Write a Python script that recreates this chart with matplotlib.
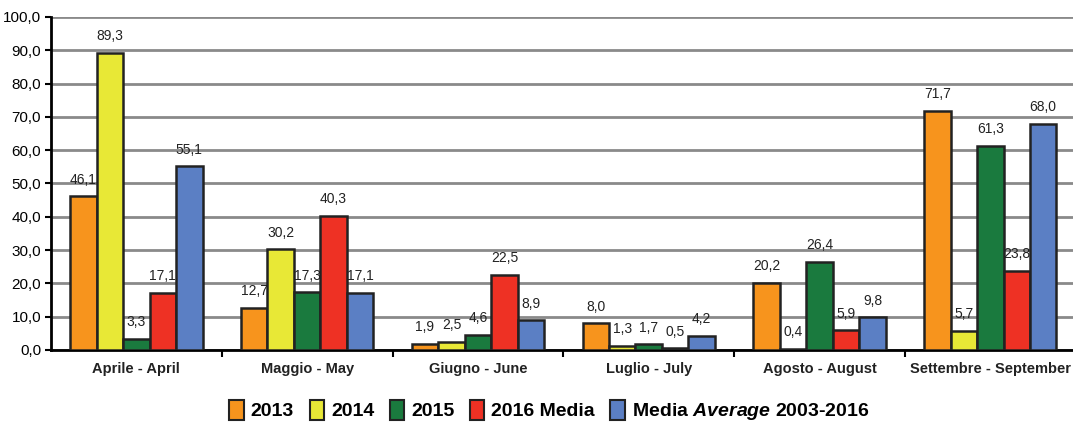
import numpy as np
from matplotlib import pyplot as plt

months = ["Aprile - April", "Maggio - May", "Giugno - June",
          "Luglio - July", "Agosto - August", "Settembre - September"]
v2013 = [46.1, 12.7, 1.9, 8.0, 20.2, 71.7]
v2014 = [89.3, 30.2, 2.5, 1.3, 0.4, 5.7]
v2015 = [3.3, 17.3, 4.6, 1.7, 26.4, 61.3]
v2016 = [17.1, 40.3, 22.5, 0.5, 5.9, 23.8]
media = [55.1, 17.1, 8.9, 4.2, 9.8, 68.0]

series = [v2013, v2014, v2015, v2016, media]
labels = ["2013", "2014", "2015", "2016 Media", "Media $\\mathbfit{Average}$ 2003-2016"]
colors = ["#F7941D", "#E8E836", "#1A7A3E", "#EE3124", "#5B7FC4"]

plt.rcParams['font.family'] = ["Liberation Sans", "DejaVu Sans"]
plt.rcParams['mathtext.fontset'] = "custom"
plt.rcParams['mathtext.bfit'] = "Liberation Sans:bold:italic"

fig = plt.figure(figsize=(10.73, 4.23), dpi=100)
ax = fig.add_axes([0.0475, 0.1726, 0.955, 0.7874])

x = np.arange(len(months))
w = 0.155
for i, (vals, col) in enumerate(zip(series, colors)):
    pos = x + (i - 2) * w
    ax.bar(pos, vals, width=w, color=col, edgecolor="#222222", linewidth=1.8, zorder=3)
    for p, v in zip(pos, vals):
        ax.annotate(f"{v:.1f}".replace(".", ","), (p, v), xytext=(0, 7),
                    textcoords="offset points", ha="center", va="bottom",
                    fontsize=10, color="#222222")

ax.set_ylim(0, 100)
ax.set_xlim(-0.5, len(months) - 0.5)
ax.set_yticks(np.arange(0, 101, 10))
ax.set_yticklabels([f"{t:.1f}".replace(".", ",") for t in np.arange(0, 101, 10)], fontsize=11)
ax.yaxis.grid(True, color="#8a8a8a", linewidth=2, zorder=0)
ax.set_axisbelow(True)

ax.set_xticks(x)
ax.set_xticklabels(months, fontsize=10.5, fontweight="bold", color="#222222")
ax.tick_params(axis="x", length=0, pad=9)
ax.set_xticks(np.arange(0.5, len(months) - 0.5, 1), minor=True)
ax.tick_params(axis="x", which="minor", length=5, width=1.5, direction="out")
ax.tick_params(axis="y", length=4, width=1.5, direction="out", pad=3)

for s in ["top", "right"]:
    ax.spines[s].set_visible(False)
ax.spines["left"].set_linewidth(2)
ax.spines["bottom"].set_linewidth(2)

handles = [plt.Rectangle((0, 0), 1, 1, facecolor=c, edgecolor="#222222", linewidth=1.5) for c in colors]
fig.legend(handles, labels, loc="lower center", bbox_to_anchor=(0.512, -0.04), ncol=5,
           frameon=False, prop={"weight": "bold", "size": 14},
           handlelength=0.75, handleheight=1.2, handletextpad=0.35, columnspacing=0.8)

fig.savefig("out.png", dpi=100)
